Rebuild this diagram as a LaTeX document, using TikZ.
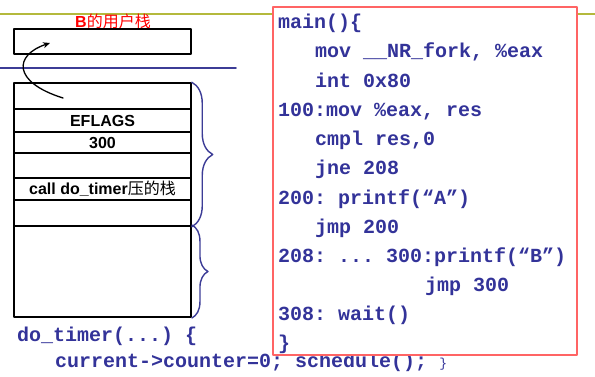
\documentclass[tikz,border=0pt]{standalone}
\usepackage{fontspec}
\setmainfont{Liberation Sans}
\setmonofont{Liberation Mono}
\newfontfamily\cjk{Noto Sans CJK SC}
\usetikzlibrary{arrows.meta,decorations.pathreplacing}
\definecolor{codeblue}{RGB}{51,51,153}
\definecolor{bracecol}{RGB}{60,60,150}
\definecolor{topline}{RGB}{180,185,60}
\definecolor{boxred}{RGB}{255,100,100}
\tikzset{
  cell/.style={draw, line width=1.5pt, minimum width=177pt, inner sep=0pt,
    font=\fontsize{16}{18}\selectfont\bfseries},
  code/.style={anchor=base west, inner sep=0pt, text=codeblue,
    font=\fontsize{20}{24}\selectfont\ttfamily\bfseries},
  stackbrace/.style={draw=bracecol, line width=1.4pt, decorate,
    decoration={brace, amplitude=#1}},
}
\begin{document}
\begin{tikzpicture}[x=1pt, y=-1pt, line join=round, line cap=round]
\useasboundingbox (0,0) rectangle (595,376);
% separators
\draw[topline, line width=2.5pt] (0,13.8) -- (595,13.8);
\draw[bracecol, line width=1.8pt] (0,68.3) -- (236,68.3);
% user stack of B
\node[text=red, font=\fontsize{16}{18}\selectfont\bfseries] (utitle) at (113,21) {B{\cjk\mdseries 的用户栈}};
\node[cell, minimum height=25pt] (ustack) at (102.5,41.5) {};
% kernel stack
\node[cell, minimum height=26pt] (r0) at (102.5,96) {};
\node[cell, minimum height=23pt] (r1) at (102.5,120.5) {EFLAGS};
\node[cell, minimum height=21pt] (r2) at (102.5,142.5) {300};
\node[cell, minimum height=25pt] (r3) at (102.5,165.5) {};
\node[cell, minimum height=22pt] (r4) at (102.5,189) {call do\_timer{\cjk\mdseries 压的栈}};
\node[cell, minimum height=26pt] (r5) at (102.5,213) {};
\node[cell, minimum height=91pt, line width=1.9pt] (r6) at (102.5,271.5) {};
\draw[stackbrace=21pt] (r0.north east) -- (r5.south east);
\draw[stackbrace=16pt] (r6.north east) -- (r6.south east);
% return to user mode
\coordinate (from) at (63,98);
\coordinate (to) at (50,43);
\draw[line width=1.3pt, -{Stealth[length=7pt,width=6pt]}] (from) .. controls (12,82) and (14,55) .. (to);
% timer handler
\node[code] (timer) at (17,341) {do\_timer(...) \{};
\node[code] (body) at (55,367) {current->counter=0; schedule(); {\fontsize{13}{14}\selectfont\mdseries\}}};
% program text
\node[draw=boxred, fill=white, line width=1.3pt, minimum width=304pt,
  minimum height=348pt, inner sep=0pt] (codebox) at (425,181) {};
\foreach \b/\x/\t [count=\i] in {
  28.5/278/{main()\{},
  57.5/315/{mov \_\_NR\_fork, \%eax},
  87/315/{int 0x80},
  116/278/{100:mov \%eax, res},
  145/315/{cmpl res,0},
  174.5/315/{jne 208},
  204/278/{200: printf(“A”)},
  233/315/{jmp 200},
  262/278/{208: ... 300:printf(“B”)},
  291/425/{jmp 300},
  320/278/{308: wait()},
  349/278/{\}}}
  \node[code] (line\i) at (\x,\b) {\t};
\end{tikzpicture}
\end{document}
